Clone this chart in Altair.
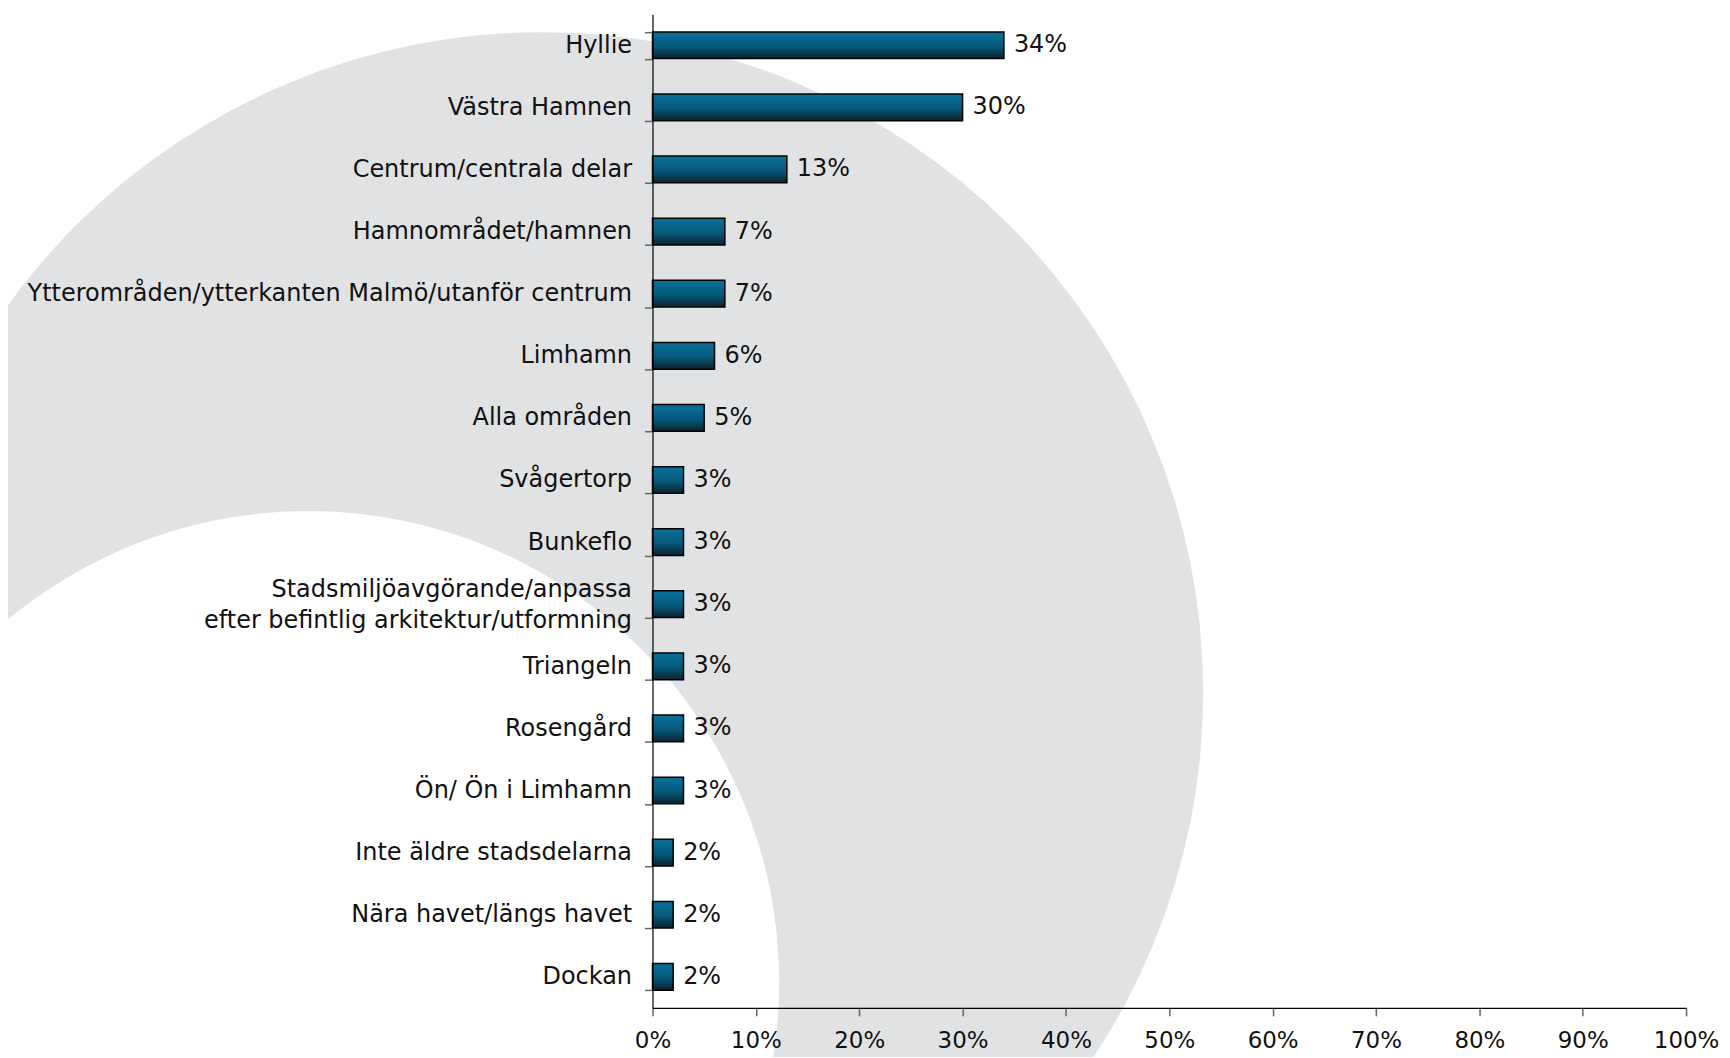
import altair as alt
import pandas as pd

categories = [
    "Hyllie",
    "Västra Hamnen",
    "Centrum/centrala delar",
    "Hamnområdet/hamnen",
    "Ytterområden/ytterkanten Malmö/utanför centrum",
    "Limhamn",
    "Alla områden",
    "Svågertorp",
    "Bunkeflo",
    "Stadsmiljöavgörande/anpassa\nefter befintlig arkitektur/utformning",
    "Triangeln",
    "Rosengård",
    "Ön/ Ön i Limhamn",
    "Inte äldre stadsdelarna",
    "Nära havet/längs havet",
    "Dockan",
]
values = [34, 30, 13, 7, 7, 6, 5, 3, 3, 3, 3, 3, 3, 2, 2, 2]
x_ticks = [0, 10, 20, 30, 40, 50, 60, 70, 80, 90, 100]

df = pd.DataFrame({"cat": categories, "v": values})

W, H = 1036, 996
FONT = "DejaVu Sans"

# decorative background ring (outer grey disc, inner white disc), plot-area pixel coords
OUTER = dict(cx=-110, cy=680, r=662)
INNER = dict(cx=-345, cy=970, r=472)

one = alt.Data(values=[{"k": 1}])

outer = alt.Chart(one).mark_arc(
    radius=OUTER["r"], theta=0, theta2=6.2832, color="#e1e2e4"
).encode(x=alt.value(OUTER["cx"]), y=alt.value(OUTER["cy"]))

inner = alt.Chart(one).mark_arc(
    radius=INNER["r"], theta=0, theta2=6.2832, color="#ffffff"
).encode(x=alt.value(INNER["cx"]), y=alt.value(INNER["cy"]))

grad = alt.Gradient(
    gradient="linear",
    stops=[
        alt.GradientStop(color="#0a729b", offset=0),
        alt.GradientStop(color="#05587a", offset=0.55),
        alt.GradientStop(color="#0c222c", offset=1),
    ],
    x1=0, x2=0, y1=0, y2=1,
)

y_enc = alt.Y(
    "cat:N",
    sort=categories,
    scale=alt.Scale(paddingInner=0.57, paddingOuter=0.285),
    axis=alt.Axis(
        title=None,
        labelFont=FONT,
        labelFontSize=24,
        labelColor="#111111",
        labelLimit=800,
        labelPadding=13,
        labelLineHeight=31,
        labelExpr="split(datum.label, '\\n')",
        labelOffset={"condition": {"test": "indexof(datum.label, '\\n') >= 0", "value": -15}, "value": 0},
        tickBand="extent",
        tickSize=8,
        tickColor="#666666",
        tickWidth=1.5,
        domainColor="#000000",
        domainWidth=1.2,
        zindex=1,
    ),
)

x_enc = alt.X(
    "v:Q",
    scale=alt.Scale(domain=[0, 100], nice=False),
    axis=alt.Axis(
        title=None,
        values=x_ticks,
        labelExpr="datum.value + '%'",
        labelFont=FONT,
        labelFontSize=23,
        labelColor="#111111",
        labelPadding=14,
        labelFlush=False,
        labelOverlap=False,
        tickSize=8,
        tickColor="#666666",
        tickWidth=1.5,
        domainColor="#000000",
        domainWidth=1.2,
        grid=False,
        zindex=1,
    ),
)

bars = alt.Chart(df).mark_bar(
    color=grad, stroke="#000000", strokeWidth=1.5
).encode(x=x_enc, y=y_enc)

labels = alt.Chart(df).transform_calculate(
    lab="datum.v + '%'"
).mark_text(
    align="left", baseline="middle", dx=10, font=FONT, fontSize=24, color="#111111"
).encode(
    x=alt.X("v:Q"),
    y=alt.Y("cat:N", sort=categories),
    text="lab:N",
)

chart = alt.layer(outer, inner, bars, labels).properties(
    width=W,
    height=H,
    autosize=alt.AutoSizeParams(type="none"),
    padding={"left": 646, "top": 5, "right": 36, "bottom": 48},
    background="#ffffff",
).configure_view(stroke=None)

chart.save("out.html", embed_options={"renderer": "svg", "actions": False})
